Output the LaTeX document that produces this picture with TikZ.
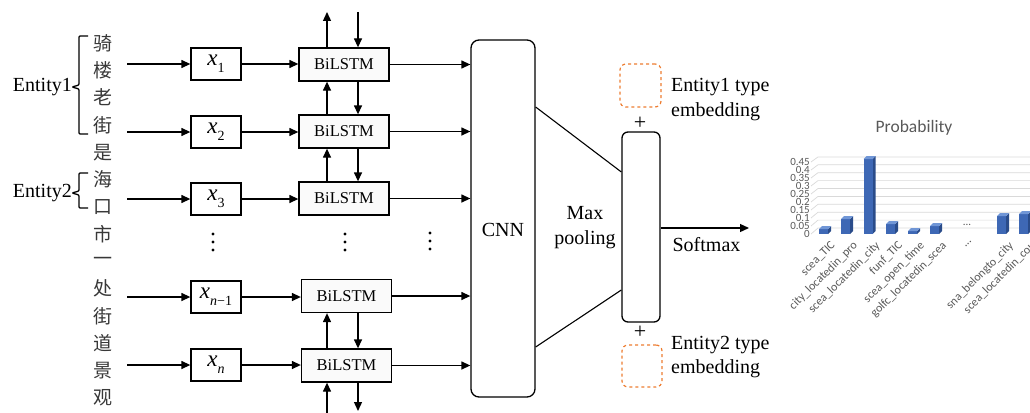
\documentclass[tikz,border=0pt]{standalone}
\usepackage{fontspec}
\setmainfont{Liberation Serif}
\newfontfamily\cjk{Noto Sans CJK SC}
\newfontfamily\chartfont{Carlito}
\usetikzlibrary{arrows.meta}
\definecolor{embedorange}{HTML}{ED7D31}
\definecolor{barfront}{HTML}{3E68B5}
\definecolor{barside}{HTML}{2A4C8A}
\definecolor{bartop}{HTML}{7096D6}
\definecolor{gridgray}{HTML}{D9D9D9}
\definecolor{ticktext}{HTML}{595959}
% token vector label: italic x with a subscript
\newcommand{\tokvec}[1]{\textit{x}\raisebox{-0.3em}{\fontsize{14}{14}\selectfont #1}}
\begin{document}
\begin{tikzpicture}[x=1pt,y=-1pt,
  font=\fontsize{20}{24}\selectfont,
  flow/.style={-{Triangle[length=9pt,width=8pt]},line width=1.3pt},
  han/.style={font=\cjk\fontsize{19}{19}\selectfont,inner sep=0pt,text=black!78},
  xbox/.style={draw,line width=1.3pt,minimum width=50pt,minimum height=32pt,inner sep=0pt,font=\fontsize{23}{23}\selectfont},
  lstm/.style={draw,line width=1.3pt,fill=gray!4,minimum width=90pt,minimum height=33pt,inner sep=0pt,font=\fontsize{16.5}{18}\selectfont},
  embed/.style={draw=embedorange,dashed,line width=1.2pt,rounded corners=6pt,inner sep=0pt},
  txt/.style={inner sep=0pt},
  tick/.style={font=\chartfont\fontsize{11}{11}\selectfont,text=ticktext,inner sep=0pt},
  catlabel/.style={font=\chartfont\fontsize{12}{12}\selectfont,text=ticktext,inner sep=0pt,rotate=45,anchor=north east},
]
\useasboundingbox (0,0) rectangle (1030,412);

% ---- input characters ----
\foreach \ch [count=\i from 0] in {骑,楼,老,街,是,海,口,市,一,处,街,道,景,观}
  \node[han] (h\i) at (103,{43+27.3*\i}) {\ch};

% entity braces
\node[txt,anchor=east] (ent1) at (72,87) {Entity1};
\node[txt,anchor=east] (ent2) at (72,193) {Entity2};
\draw[line width=1.3pt,rounded corners=1pt] (88,36) -- (79,36) -- (79,85) -- (72,87) -- (79,89) -- (79,134) -- (88,134);
\draw[line width=1.3pt,rounded corners=1pt] (88,173) -- (79,173) -- (79,191) -- (72,193) -- (79,195) -- (79,208) -- (88,208);

% ---- embedding boxes ----
\node[xbox] (x1) at (216,64) {\tokvec{1}};
\node[xbox] (x2) at (216,132) {\tokvec{2}};
\node[xbox] (x3) at (216,199) {\tokvec{3}};
\node[xbox] (xm) at (216,297) {\tokvec{\textit{n}−1}};
\node[xbox] (xn) at (216,365) {\tokvec{\textit{n}}};

\foreach \r/\y in {1/64,2/132,3/199,m/297,n/365}{
  \coordinate (s\r) at (127,\y);
  \draw[flow] (s\r) -- (x\r.west);
}

% ---- BiLSTM column ----
\node[lstm] (b1) at (344,64.5) {BiLSTM};
\node[lstm] (b2) at (344,131.5) {BiLSTM};
\node[lstm] (b3) at (344,198.5) {BiLSTM};
\node[lstm] (bm) at (346.5,296) {BiLSTM};
\node[lstm] (bn) at (346.5,365.5) {BiLSTM};

\foreach \r in {1,2,3,m,n}
  \draw[flow] (x\r.east) -- (x\r.east -| b\r.west);

% recurrent connections
\coordinate (tu) at (327,12);
\coordinate (td) at (358,12);
\coordinate (bu) at (327,413);
\coordinate (bd) at (358,411);
\draw[flow] (tu |- b1.north) -- (tu);
\draw[flow] (td) -- (td |- b1.north);
\draw[flow] (tu |- b2.north) -- (tu |- b1.south);
\draw[flow] (td |- b1.south) -- (td |- b2.north);
\draw[flow] (tu |- b3.north) -- (tu |- b2.south);
\draw[flow] (td |- b2.south) -- (td |- b3.north);
\draw[flow] (tu |- bn.north) -- (tu |- bm.south);
\draw[flow] (td |- bm.south) -- (td |- bn.north);
\draw[flow] (bu) -- (tu |- bn.south);
\draw[flow] (td |- bn.south) -- (bd);

% ellipsis dots
\foreach \x/\y in {213/234,345/234,430/233}
  \foreach \k in {0,1,2}
    \fill (\x,{\y+8*\k}) circle (1.6pt);

% ---- CNN ----
\node[draw,line width=1.3pt,rounded corners=8pt,minimum width=64pt,minimum height=357pt,inner sep=0pt] (cnn) at (503,218.5) {};
\node[txt] (cnnlab) at (503,230) {CNN};
\foreach \r in {1,2,3,m,n}
  \draw[flow] (b\r.east) -- (b\r.east -| cnn.west);

% ---- max pooling ----
\node[draw,line width=1.3pt,rounded corners=6pt,minimum width=38pt,minimum height=190pt,inner sep=0pt] (mp) at (641,227) {};
\draw[line width=1.1pt] ([yshift=111.5pt]cnn.east) -- ([yshift=55pt]mp.west);
\draw[line width=1.1pt] ([yshift=-128.5pt]cnn.east) -- ([yshift=-63pt]mp.west);
\node[txt,align=center,font=\fontsize{20}{25}\selectfont] (mplab) at (585,228) {Max\\pooling};

\node[txt,font=\fontsize{22}{22}\selectfont] (plus1) at (640,123) {+};
\node[txt,font=\fontsize{22}{22}\selectfont] (plus2) at (640,332) {+};

\node[embed,minimum width=41pt,minimum height=43pt] (e1) at (640.5,85.5) {};
\node[embed,minimum width=40pt,minimum height=42pt] (e2) at (642,366) {};
\node[txt,anchor=west,align=left,font=\fontsize{20}{24.5}\selectfont] (e1lab) at (671,99.5) {Entity1 type\\embedding};
\node[txt,anchor=west,align=left,font=\fontsize{20}{24.5}\selectfont] (e2lab) at (671,357) {Entity2 type\\embedding};

% ---- softmax ----
\coordinate (sm) at (749,228);
\draw[flow] (mp.east |- sm) -- (sm);
\node[txt] (smlab) at (706.5,245) {Softmax};

% ---- probability chart ----
\node[font=\chartfont\fontsize{17.5}{18}\selectfont,text=ticktext,inner sep=0pt] (ptitle) at (914,128) {Probability};

\foreach \k in {0,...,9}
  \draw[gridgray,line width=0.7pt] (811,{234-8*\k}) -- (818,{228-7.9*\k}) -- (1031,{228-7.9*\k});

\foreach \k/\lab in {0/0,1/0.05,2/0.1,3/0.15,4/0.2,5/0.25,6/0.3,7/0.35,8/0.4,9/0.45}
  \node[tick,anchor=east] (yt\k) at (810,{234-8*\k}) {\lab};

% bars: left edge, height in px
\foreach \bx/\bh in {819/5,841/15,863.5/75,886/10,908/3,930/8,997/18,1019/20}{
  \fill[barside] (\bx+9,234) -- (\bx+12,231) -- (\bx+12,231-\bh) -- (\bx+9,234-\bh) -- cycle;
  \fill[barfront] (\bx,234) rectangle (\bx+9,234-\bh);
  \fill[bartop] (\bx,234-\bh) -- (\bx+3,231-\bh) -- (\bx+12,231-\bh) -- (\bx+9,234-\bh) -- cycle;
}
\node[tick] (gap) at (967,225) {...};

\foreach \cx/\lab in {830/scea\_TIC,852/city\_locatedin\_pro,874.5/scea\_locatedin\_city,897/funf\_TIC,919/scea\_open\_time,941/golfc\_locatedin\_scea,1008/sna\_belongto\_city,1030/scea\_locatedin\_cou}
  \node[catlabel] at (\cx,240) {\lab};
\node[catlabel] (gaplab) at (971,240) {...};
\end{tikzpicture}
\end{document}
